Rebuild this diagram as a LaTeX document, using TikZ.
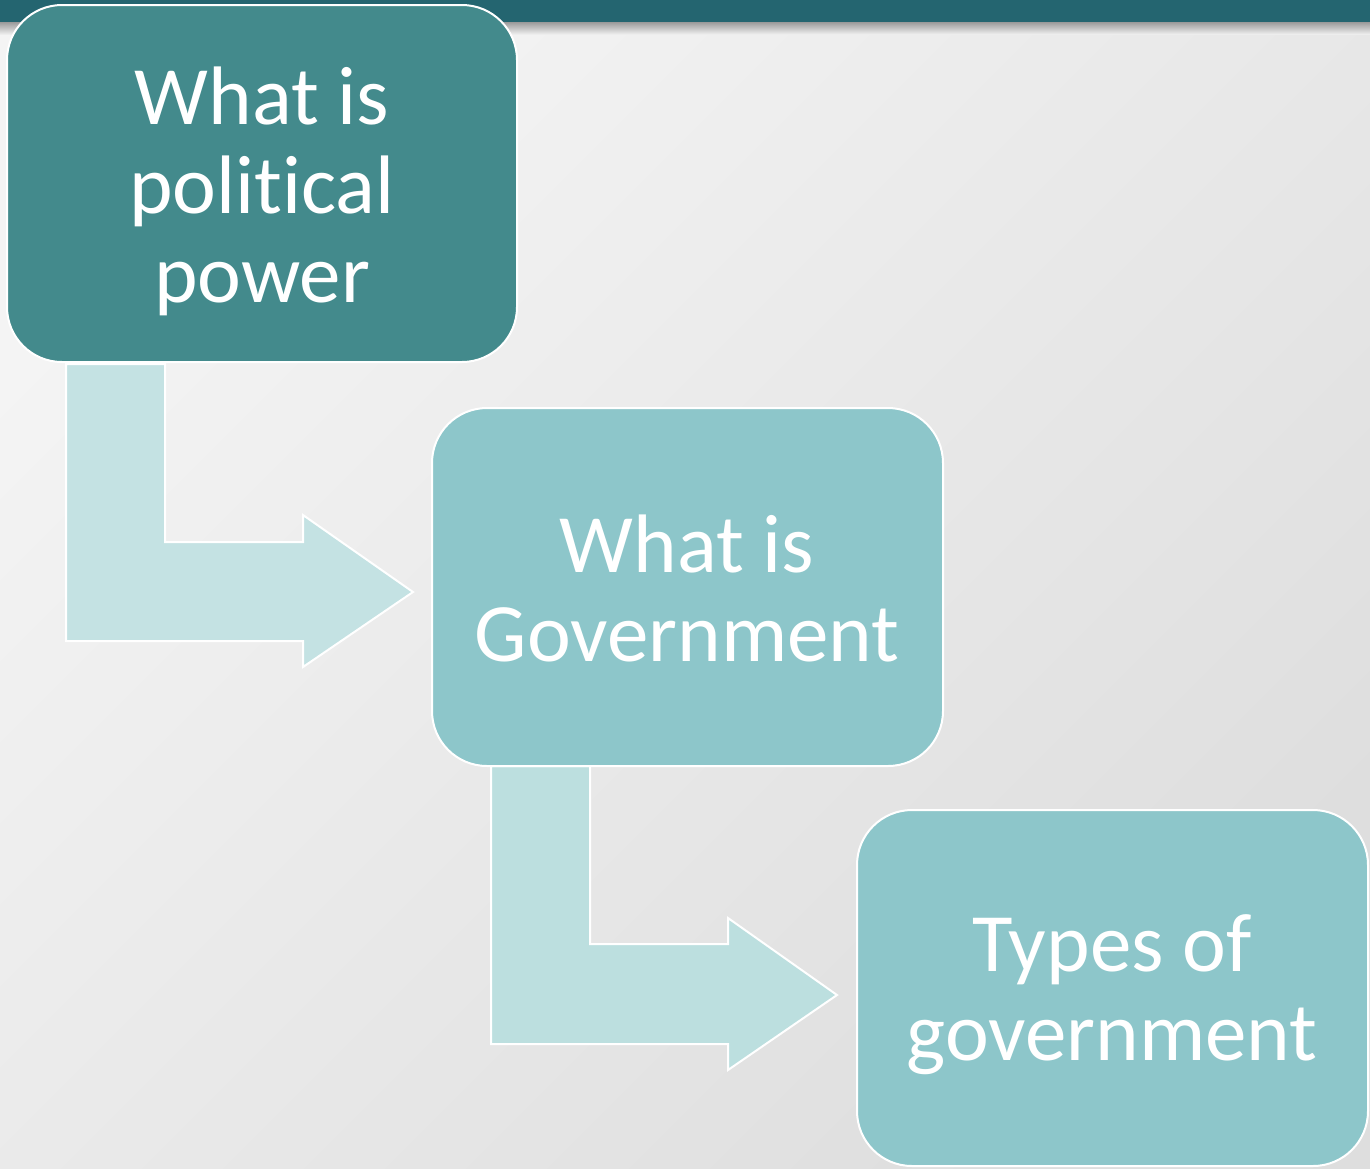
\documentclass[tikz,border=0pt]{standalone}
\usepackage{fontspec}
\setmainfont{Carlito}[Ligatures=NoCommon]
\definecolor{bar}{HTML}{246570}
\definecolor{dark}{HTML}{438A8C}
\definecolor{light}{HTML}{8DC6CA}
\definecolor{arr1}{HTML}{C4E2E3}
\definecolor{arr2}{HTML}{BCDFDF}
\definecolor{bgA}{HTML}{F4F4F4}
\definecolor{bgB}{HTML}{DEDEDE}
\tikzset{
  box/.style={draw=white, line width=2pt, rounded corners=55pt, text=white, align=center,
    font=\fontsize{83}{89}\selectfont},
  arrowshape/.style={draw=white, line width=2pt, line join=miter},
}
\begin{document}
\begin{tikzpicture}[x=1pt,y=-1pt]
\useasboundingbox (0,0) rectangle (1370,1168);
\shade[top color=bgA, bottom color=bgB, shading angle=45] (0,0) rectangle (1370,1168);
\shade[top color=black!45, bottom color=bgA!97!black] (0,20) rectangle (1370,34);
\fill[bar] (0,0) rectangle (1370,22);
% arrows
\path[arrowshape, fill=arr1] (66,364) -- (165,364) -- (165,542) -- (303,542) -- (303,515) -- (413,592) -- (303,667) -- (303,641) -- (66,641) -- cycle;
\path[arrowshape, fill=arr2] (491,766) -- (590,766) -- (590,944) -- (728,944) -- (728,918) -- (837,995) -- (728,1070) -- (728,1044) -- (491,1044) -- cycle;
% boxes
\path[box, fill=dark] (7,5) rectangle (517,362);
\path[box, fill=light] (432,408) rectangle (943,766);
\path[box, fill=light] (857,810) rectangle (1368,1166);
\node[box, draw=none, rounded corners=0pt] (b1) at (262,191) {What is\\political\\power};
\node[box, draw=none, rounded corners=0pt] (b2) at (687,588) {What is\\Government};
\node[box, draw=none, rounded corners=0pt] (b3) at (1112,995) {Types of\\government};
\end{tikzpicture}
\end{document}
